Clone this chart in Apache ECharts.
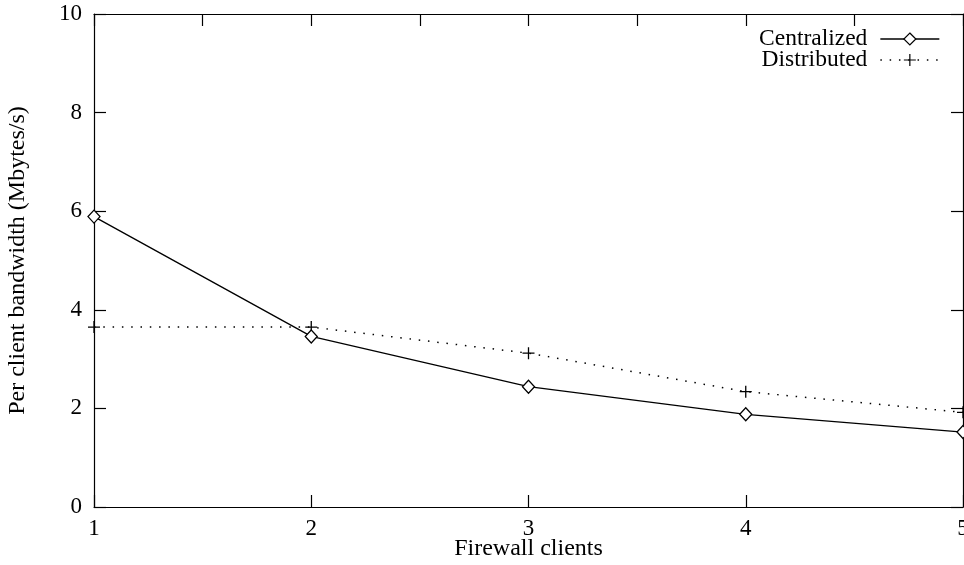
<!DOCTYPE html>
<html>
<head>
<meta charset="utf-8">
<script src="https://cdn.jsdelivr.net/npm/echarts@6/dist/echarts.min.js"></script>
<style>html,body{margin:0;padding:0;background:#fff;overflow:hidden;}#c{width:964px;height:565px;}</style>
</head>
<body>
<div id="c"></div>
<script>
const clients = [1, 2, 3, 4, 5];
const centralized = [5.89, 3.46, 2.44, 1.88, 1.52];
const distributed = [3.65, 3.65, 3.12, 2.34, 1.92];
const seriesNames = ['Centralized', 'Distributed'];
const xTitle = 'Firewall clients';
const yTitle = 'Per client bandwidth (Mbytes/s)';

const FONT = "'Liberation Serif', 'DejaVu Serif', serif";
const chart = echarts.init(document.getElementById('c'), null, {renderer: 'canvas'});
const pairs = (ys) => clients.map((x, i) => [x, ys[i]]);
const tickStyle = {show: true, inside: true, length: 12, lineStyle: {color: '#000', width: 1.2}};
const lineAx = {show: true, onZero: false, lineStyle: {color: '#000', width: 1.2}};

chart.setOption({
  animation: false,
  backgroundColor: '#fff',
  textStyle: {fontFamily: FONT, color: '#000'},
  grid: {left: 94, right: 1, top: 14, bottom: 58, containLabel: false, outerBoundsMode: 'none'},
  legend: {
    orient: 'vertical', align: 'right', right: 19, top: 22,
    itemWidth: 59, itemHeight: 15, itemGap: -3,
    data: seriesNames,
    lineStyle: {width: 1.3},
    itemStyle: {borderWidth: 1.2},
    textStyle: {fontFamily: FONT, fontSize: 23.5, lineHeight: 19, color: '#000', padding: [0, 8, 0, 0]}
  },
  xAxis: [{
    type: 'value', position: 'bottom', min: 1, max: 5, interval: 1,
    name: xTitle, nameLocation: 'middle', nameGap: 30, nameMoveOverlap: false,
    nameTextStyle: {fontFamily: FONT, fontSize: 24, color: '#000'},
    axisLine: lineAx, axisTick: tickStyle,
    axisLabel: {fontFamily: FONT, fontSize: 23, color: '#000', margin: 10},
    splitLine: {show: false}
  }, {
    type: 'value', position: 'top', min: 1, max: 5, interval: 0.5,
    axisLine: lineAx, axisTick: tickStyle,
    axisLabel: {show: false}, splitLine: {show: false}
  }],
  yAxis: [{
    type: 'value', position: 'left', min: 0, max: 10, interval: 2,
    name: yTitle, nameLocation: 'middle', nameGap: 64, nameRotate: 90, nameMoveOverlap: false,
    nameTextStyle: {fontFamily: FONT, fontSize: 24, color: '#000'},
    axisLine: lineAx, axisTick: tickStyle,
    axisLabel: {fontFamily: FONT, fontSize: 23, color: '#000', margin: 12},
    splitLine: {show: false}
  }, {
    type: 'value', position: 'right', min: 0, max: 10, interval: 2,
    axisLine: lineAx, axisTick: tickStyle,
    axisLabel: {show: false}, splitLine: {show: false}
  }],
  series: [{
    name: seriesNames[0], type: 'line', xAxisIndex: 0, yAxisIndex: 0,
    data: pairs(centralized),
    symbol: 'diamond', symbolSize: [12, 13], showAllSymbol: true,
    lineStyle: {color: '#000', width: 1.3, type: 'solid'},
    itemStyle: {color: '#fff', borderColor: '#000', borderWidth: 1.3},
    z: 3
  }, {
    name: seriesNames[1], type: 'line', xAxisIndex: 0, yAxisIndex: 0,
    data: pairs(distributed),
    symbol: 'path://M5,0 L5,10 M0,5 L10,5', symbolSize: 12, showAllSymbol: true,
    lineStyle: {color: '#000', width: 1.5, type: [1.5, 7.8]},
    itemStyle: {color: 'none', borderColor: '#000', borderWidth: 1.3},
    z: 2
  }]
});
</script>
</body>
</html>
